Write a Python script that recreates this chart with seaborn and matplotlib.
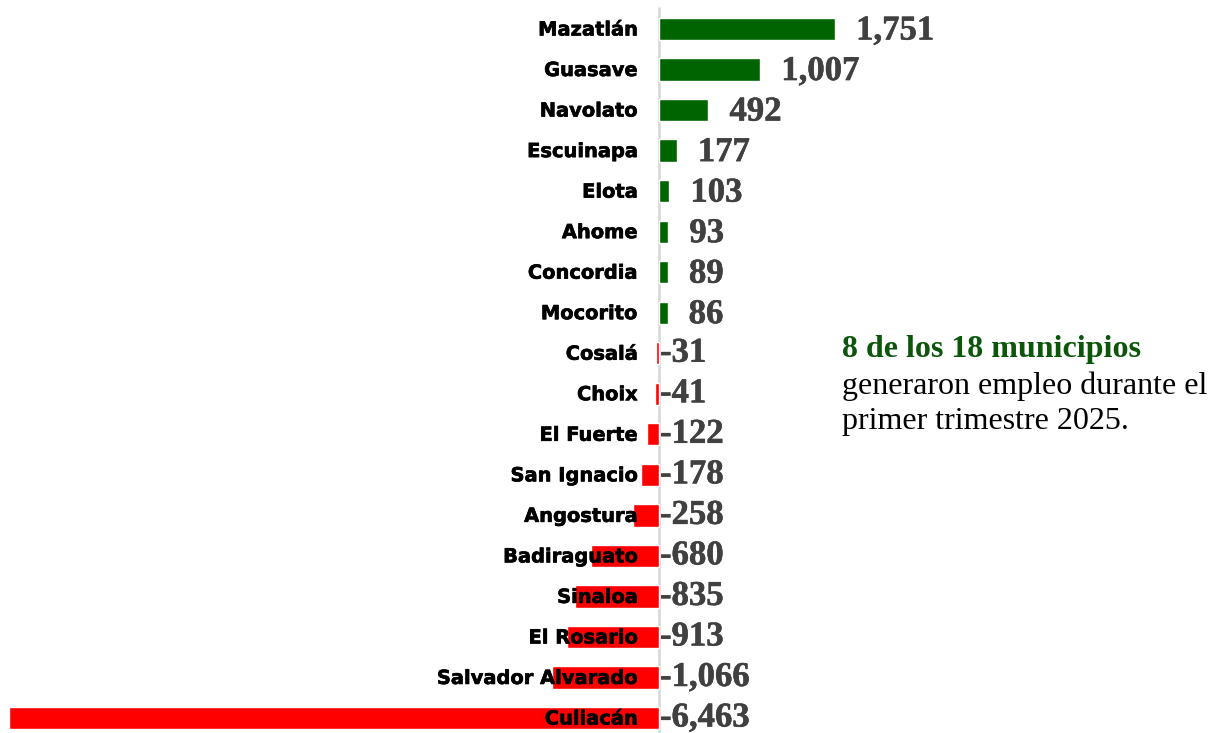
import matplotlib
matplotlib.use("Agg")
import matplotlib.pyplot as plt
import matplotlib.patheffects as pe
import seaborn as sns
import pandas as pd
import numpy as np

municipios = ["Mazatlán", "Guasave", "Navolato", "Escuinapa", "Elota", "Ahome",
              "Concordia", "Mocorito", "Cosalá", "Choix", "El Fuerte", "San Ignacio",
              "Angostura", "Badiraguato", "Sinaloa", "El Rosario", "Salvador Alvarado",
              "Culiacán"]
empleos = [1751, 1007, 492, 177, 103, 93, 89, 86, -31, -41, -122, -178,
           -258, -680, -835, -913, -1066, -6463]
value_labels = ["1,751", "1,007", "492", "177", "103", "93", "89", "86", "-31", "-41",
                "-122", "-178", "-258", "-680", "-835", "-913", "-1,066", "-6,463"]

df = pd.DataFrame({"municipio": municipios, "empleo": empleos})
df["signo"] = np.where(df["empleo"] >= 0, "pos", "neg")

sns.set_theme(style="white")
plt.rcParams["font.family"] = ["DejaVu Sans"]

W, H = 1209, 733
fig = plt.figure(figsize=(W / 100, H / 100), dpi=100)
ax = fig.add_axes([0, 0, 1, 1])

sns.barplot(data=df, x="empleo", y="municipio", hue="signo",
            palette={"pos": "#006400", "neg": "#FF0000"}, dodge=False,
            saturation=1, width=0.55, legend=False, ax=ax, orient="h", zorder=2)

scale = 0.10057  # px per unit
zero_px = 659
ax.set_xlim(-zero_px / scale, (W - zero_px) / scale)
row_px = 40.53
ax.set_ylim((H - 29) / row_px, -29 / row_px)

ax.axvline(0, color="#D9D9D9", lw=2, ymax=1 - 8 / H, zorder=1)

heavy = [pe.withStroke(linewidth=0.45, foreground="black")]
valfx = [pe.withStroke(linewidth=0.4, foreground="#404040")]
for i, (v, lab, name) in enumerate(zip(empleos, value_labels, municipios)):
    ax.annotate(name, xy=(0, i), xytext=(-21, -1), textcoords="offset pixels",
                ha="right", va="center", fontsize=14, fontweight="bold",
                family=["DejaVu Sans"], color="black", zorder=5, path_effects=heavy)
    if v >= 0:
        ax.annotate(lab, xy=(v, i), xytext=(21, -2), textcoords="offset pixels",
                    ha="left", va="center", fontsize=25, fontweight="bold",
                    family=["Liberation Serif"], color="#404040", zorder=5,
                    path_effects=valfx)
    else:
        ax.annotate(lab, xy=(0, i), xytext=(1, 0), textcoords="offset pixels",
                    ha="left", va="center", fontsize=25, fontweight="bold",
                    family=["Liberation Serif"], color="#404040", zorder=5,
                    path_effects=valfx)

ax.set_xlabel("")
ax.set_ylabel("")
ax.set_xticks([])
ax.set_yticks([])
for s in ax.spines.values():
    s.set_visible(False)

fig.text(842 / W, 1 - 350 / H, "8 de los 18 municipios", ha="left", va="center",
         fontsize=23, fontweight="bold", family=["Liberation Serif"], color="#0B560B")
fig.text(842 / W, 1 - 386 / H, "generaron empleo durante el", ha="left", va="center",
         fontsize=23, family=["Liberation Serif"], color="black")
fig.text(842 / W, 1 - 421 / H, "primer trimestre 2025.", ha="left", va="center",
         fontsize=23, family=["Liberation Serif"], color="black")

fig.savefig("out.png", dpi=100)
